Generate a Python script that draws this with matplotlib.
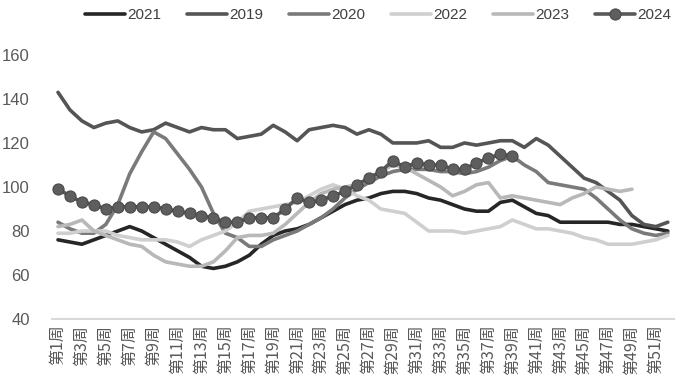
import numpy as np
import matplotlib.pyplot as plt

weeks = np.arange(1, 53)
week_labels = ["第%d周" % w for w in weeks]

y2019 = [143, 135, 130, 127, 129, 130, 127, 125, 126, 129, 127, 125, 127, 126, 126, 122,
         123, 124, 128, 125, 121, 126, 127, 128, 127, 124, 126, 124, 120, 120, 120, 121,
         118, 118, 120, 119, 120, 121, 121, 118, 122, 119, 114, 109, 104, 102, 98, 94,
         87, 83, 82, 84]
y2020 = [84, 81, 79, 79, 83, 92, 106, 116, 125, 122, 115, 108, 100, 88, 79, 77,
         73, 73, 76, 78, 80, 83, 86, 90, 95, 99, 102, 105, 107, 108, 108, 108,
         107, 107, 106, 107, 109, 112, 114, 110, 107, 102, 101, 100, 99, 95, 90, 85,
         81, 79, 78, 79]
y2021 = [76, 75, 74, 76, 78, 80, 82, 80, 77, 74, 71, 68, 64, 63, 64, 66,
         69, 74, 78, 80, 81, 83, 86, 89, 92, 94, 95, 97, 98, 98, 97, 95,
         94, 92, 90, 89, 89, 93, 94, 91, 88, 87, 84, 84, 84, 84, 84, 83,
         83, 82, 81, 80]
y2022 = [79, 79, 80, 80, 80, 78, 77, 76, 76, 76, 75, 73, 76, 78, 80, 84,
         89, 90, 91, 92, 93, 96, 99, 101, 99, 96, 94, 90, 89, 88, 84, 80,
         80, 80, 79, 80, 81, 82, 85, 83, 81, 81, 80, 79, 77, 76, 74, 74,
         74, 75, 76, 78]
y2023 = [82, 83, 85, 80, 78, 76, 74, 73, 69, 66, 65, 64, 64, 66, 71, 77,
         78, 78, 79, 83, 88, 93, 97, 99, 100, 101, 104, 107, 110, 109, 106, 103,
         100, 96, 98, 101, 102, 95, 96, 95, 94, 93, 92, 95, 97, 100, 99, 98,
         99, None, None, None]
y2024 = [99, 96, 93, 92, 90, 91, 91, 91, 91, 90, 89, 88, 87, 86, 84, 84,
         86, 86, 86, 90, 95, 93, 94, 96, 98, 101, 104, 107, 112, 109, 111, 110,
         110, 108, 108, 111, 113, 115, 114]

def arr(v):
    return np.array([np.nan if x is None else x for x in v], dtype=float)

fig = plt.figure(figsize=(6.81, 3.92), dpi=100)
ax = fig.add_axes([0.0764, 0.186, 0.913, 0.674])

lw = 2.6
ax.plot(weeks, arr(y2021), color="#262626", lw=lw, label="2021", solid_capstyle="round")
ax.plot(weeks, arr(y2019), color="#555555", lw=lw, label="2019", solid_capstyle="round")
ax.plot(weeks, arr(y2020), color="#7a7a7a", lw=lw, label="2020", solid_capstyle="round")
ax.plot(weeks, arr(y2022), color="#cfcfcf", lw=lw, label="2022", solid_capstyle="round")
ax.plot(weeks, arr(y2023), color="#b8b8b8", lw=lw, label="2023", solid_capstyle="round")
ax.plot(weeks[:len(y2024)], arr(y2024), color="#595959", lw=lw, label="2024",
        marker="o", markersize=8, markerfacecolor="#5e5e5e", markeredgecolor="#4a4a4a",
        markeredgewidth=0.8, solid_capstyle="round")

ax.set_xlim(0.5, 52.5)
ax.set_ylim(40, 160)
ax.set_yticks(np.arange(40, 161, 20))
ax.set_xticks(weeks[::2])
ax.set_xticklabels(week_labels[::2], rotation=90, family=["Noto Sans CJK SC", "DejaVu Sans"],
                   fontsize=11.5, color="#595959")
for t in ax.get_yticklabels():
    t.set_family("Liberation Sans")
    t.set_fontsize(12)
    t.set_color("#595959")
ax.tick_params(axis="both", length=0)
ax.tick_params(axis="y", pad=16)
ax.tick_params(axis="x", pad=4)
for s in ["top", "right", "left"]:
    ax.spines[s].set_visible(False)
ax.spines["bottom"].set_color("#d9d9d9")
ax.spines["bottom"].set_linewidth(1.5)

leg = fig.legend(loc="center", bbox_to_anchor=(378 / 681, 1 - 15 / 392), ncol=6,
                 frameon=False, handlelength=2.6, handletextpad=0.15, columnspacing=1.7,
                 prop={"family": "Liberation Sans", "size": 11})
for t in leg.get_texts():
    t.set_color("#404040")

fig.savefig("out.png", dpi=100)
